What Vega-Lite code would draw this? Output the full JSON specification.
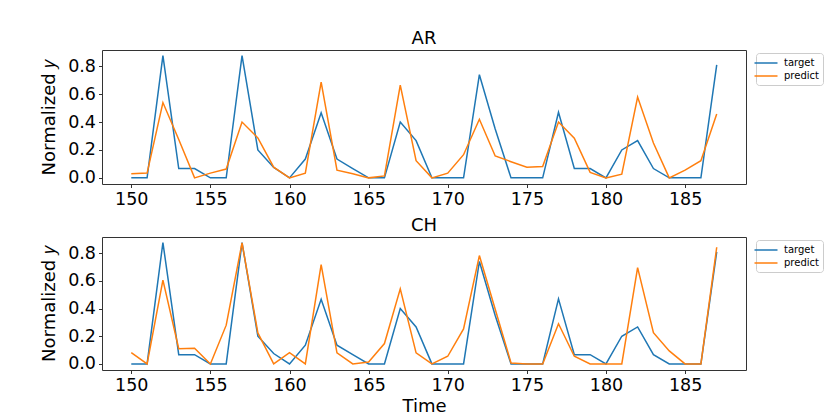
{
"$schema": "https://vega.github.io/schema/vega-lite/v6.json",
"padding": {"left": 40, "top": 29, "right": 0, "bottom": 0},
"background": "white",
"config": {
 "font": "DejaVu Sans",
 "view": {"stroke": "#333", "strokeWidth": 1},
 "axis": {"grid": false, "domain": false, "tickColor": "#333", "tickSize": 3.5, "labelFontSize": 17.5, "labelColor": "#000", "labelPadding": 3, "titleFontSize": 18, "titleFontWeight": "normal", "titleColor": "#000"},
 "title": {"fontSize": 18, "fontWeight": "normal", "offset": 2, "color": "#000"},
 "legend": {"orient": "none", "legendX": 654, "legendY": 3, "strokeColor": "#ccc", "fillColor": "#fff", "padding": 4, "cornerRadius": 3, "labelFontSize": 10, "labelColor": "#000", "symbolType": "M-2.3,0H2.3", "symbolSize": 100, "symbolStrokeWidth": 1.5, "rowPadding": 2, "labelOffset": 12}
},
"data": {"values": [
{"p":"AR","s":"target","t":150,"v":0},{"p":"AR","s":"target","t":151,"v":0},{"p":"AR","s":"target","t":152,"v":0.877},{"p":"AR","s":"target","t":153,"v":0.067},{"p":"AR","s":"target","t":154,"v":0.067},{"p":"AR","s":"target","t":155,"v":0},{"p":"AR","s":"target","t":156,"v":0},{"p":"AR","s":"target","t":157,"v":0.877},{"p":"AR","s":"target","t":158,"v":0.2},{"p":"AR","s":"target","t":159,"v":0.075},{"p":"AR","s":"target","t":160,"v":0},{"p":"AR","s":"target","t":161,"v":0.135},{"p":"AR","s":"target","t":162,"v":0.467},{"p":"AR","s":"target","t":163,"v":0.135},{"p":"AR","s":"target","t":164,"v":0.067},{"p":"AR","s":"target","t":165,"v":0},{"p":"AR","s":"target","t":166,"v":0},{"p":"AR","s":"target","t":167,"v":0.4},{"p":"AR","s":"target","t":168,"v":0.267},{"p":"AR","s":"target","t":169,"v":0},{"p":"AR","s":"target","t":170,"v":0},{"p":"AR","s":"target","t":171,"v":0},{"p":"AR","s":"target","t":172,"v":0.74},{"p":"AR","s":"target","t":173,"v":0.35},{"p":"AR","s":"target","t":174,"v":0},{"p":"AR","s":"target","t":175,"v":0},{"p":"AR","s":"target","t":176,"v":0},{"p":"AR","s":"target","t":177,"v":0.47},{"p":"AR","s":"target","t":178,"v":0.067},{"p":"AR","s":"target","t":179,"v":0.067},{"p":"AR","s":"target","t":180,"v":0},{"p":"AR","s":"target","t":181,"v":0.2},{"p":"AR","s":"target","t":182,"v":0.267},{"p":"AR","s":"target","t":183,"v":0.067},{"p":"AR","s":"target","t":184,"v":0},{"p":"AR","s":"target","t":185,"v":0},{"p":"AR","s":"target","t":186,"v":0},{"p":"AR","s":"target","t":187,"v":0.81},
{"p":"AR","s":"predict","t":150,"v":0.029},{"p":"AR","s":"predict","t":151,"v":0.034},{"p":"AR","s":"predict","t":152,"v":0.54},{"p":"AR","s":"predict","t":153,"v":0.275},{"p":"AR","s":"predict","t":154,"v":0},{"p":"AR","s":"predict","t":155,"v":0.034},{"p":"AR","s":"predict","t":156,"v":0.063},{"p":"AR","s":"predict","t":157,"v":0.4},{"p":"AR","s":"predict","t":158,"v":0.287},{"p":"AR","s":"predict","t":159,"v":0.077},{"p":"AR","s":"predict","t":160,"v":0},{"p":"AR","s":"predict","t":161,"v":0.034},{"p":"AR","s":"predict","t":162,"v":0.687},{"p":"AR","s":"predict","t":163,"v":0.055},{"p":"AR","s":"predict","t":164,"v":0.03},{"p":"AR","s":"predict","t":165,"v":0},{"p":"AR","s":"predict","t":166,"v":0.014},{"p":"AR","s":"predict","t":167,"v":0.665},{"p":"AR","s":"predict","t":168,"v":0.123},{"p":"AR","s":"predict","t":169,"v":0},{"p":"AR","s":"predict","t":170,"v":0.034},{"p":"AR","s":"predict","t":171,"v":0.166},{"p":"AR","s":"predict","t":172,"v":0.42},{"p":"AR","s":"predict","t":173,"v":0.157},{"p":"AR","s":"predict","t":174,"v":0.116},{"p":"AR","s":"predict","t":175,"v":0.077},{"p":"AR","s":"predict","t":176,"v":0.082},{"p":"AR","s":"predict","t":177,"v":0.4},{"p":"AR","s":"predict","t":178,"v":0.284},{"p":"AR","s":"predict","t":179,"v":0.039},{"p":"AR","s":"predict","t":180,"v":0},{"p":"AR","s":"predict","t":181,"v":0.026},{"p":"AR","s":"predict","t":182,"v":0.58},{"p":"AR","s":"predict","t":183,"v":0.25},{"p":"AR","s":"predict","t":184,"v":0},{"p":"AR","s":"predict","t":185,"v":0.055},{"p":"AR","s":"predict","t":186,"v":0.123},{"p":"AR","s":"predict","t":187,"v":0.458},
{"p":"CH","s":"target","t":150,"v":0},{"p":"CH","s":"target","t":151,"v":0},{"p":"CH","s":"target","t":152,"v":0.877},{"p":"CH","s":"target","t":153,"v":0.067},{"p":"CH","s":"target","t":154,"v":0.067},{"p":"CH","s":"target","t":155,"v":0},{"p":"CH","s":"target","t":156,"v":0},{"p":"CH","s":"target","t":157,"v":0.877},{"p":"CH","s":"target","t":158,"v":0.2},{"p":"CH","s":"target","t":159,"v":0.075},{"p":"CH","s":"target","t":160,"v":0},{"p":"CH","s":"target","t":161,"v":0.135},{"p":"CH","s":"target","t":162,"v":0.467},{"p":"CH","s":"target","t":163,"v":0.135},{"p":"CH","s":"target","t":164,"v":0.067},{"p":"CH","s":"target","t":165,"v":0},{"p":"CH","s":"target","t":166,"v":0},{"p":"CH","s":"target","t":167,"v":0.4},{"p":"CH","s":"target","t":168,"v":0.267},{"p":"CH","s":"target","t":169,"v":0},{"p":"CH","s":"target","t":170,"v":0},{"p":"CH","s":"target","t":171,"v":0},{"p":"CH","s":"target","t":172,"v":0.74},{"p":"CH","s":"target","t":173,"v":0.35},{"p":"CH","s":"target","t":174,"v":0},{"p":"CH","s":"target","t":175,"v":0},{"p":"CH","s":"target","t":176,"v":0},{"p":"CH","s":"target","t":177,"v":0.47},{"p":"CH","s":"target","t":178,"v":0.067},{"p":"CH","s":"target","t":179,"v":0.067},{"p":"CH","s":"target","t":180,"v":0},{"p":"CH","s":"target","t":181,"v":0.2},{"p":"CH","s":"target","t":182,"v":0.267},{"p":"CH","s":"target","t":183,"v":0.067},{"p":"CH","s":"target","t":184,"v":0},{"p":"CH","s":"target","t":185,"v":0},{"p":"CH","s":"target","t":186,"v":0},{"p":"CH","s":"target","t":187,"v":0.81},
{"p":"CH","s":"predict","t":150,"v":0.082},{"p":"CH","s":"predict","t":151,"v":0},{"p":"CH","s":"predict","t":152,"v":0.605},{"p":"CH","s":"predict","t":153,"v":0.11},{"p":"CH","s":"predict","t":154,"v":0.113},{"p":"CH","s":"predict","t":155,"v":0},{"p":"CH","s":"predict","t":156,"v":0.28},{"p":"CH","s":"predict","t":157,"v":0.875},{"p":"CH","s":"predict","t":158,"v":0.224},{"p":"CH","s":"predict","t":159,"v":0},{"p":"CH","s":"predict","t":160,"v":0.082},{"p":"CH","s":"predict","t":161,"v":0},{"p":"CH","s":"predict","t":162,"v":0.718},{"p":"CH","s":"predict","t":163,"v":0.08},{"p":"CH","s":"predict","t":164,"v":0},{"p":"CH","s":"predict","t":165,"v":0.014},{"p":"CH","s":"predict","t":166,"v":0.147},{"p":"CH","s":"predict","t":167,"v":0.542},{"p":"CH","s":"predict","t":168,"v":0.08},{"p":"CH","s":"predict","t":169,"v":0},{"p":"CH","s":"predict","t":170,"v":0.055},{"p":"CH","s":"predict","t":171,"v":0.253},{"p":"CH","s":"predict","t":172,"v":0.783},{"p":"CH","s":"predict","t":173,"v":0.395},{"p":"CH","s":"predict","t":174,"v":0.007},{"p":"CH","s":"predict","t":175,"v":0},{"p":"CH","s":"predict","t":176,"v":0},{"p":"CH","s":"predict","t":177,"v":0.29},{"p":"CH","s":"predict","t":178,"v":0.055},{"p":"CH","s":"predict","t":179,"v":0},{"p":"CH","s":"predict","t":180,"v":0},{"p":"CH","s":"predict","t":181,"v":0},{"p":"CH","s":"predict","t":182,"v":0.696},{"p":"CH","s":"predict","t":183,"v":0.226},{"p":"CH","s":"predict","t":184,"v":0.094},{"p":"CH","s":"predict","t":185,"v":0},{"p":"CH","s":"predict","t":186,"v":0},{"p":"CH","s":"predict","t":187,"v":0.843}
]},
"spacing": 53,
"bounds": "flush",
"resolve": {"legend": {"color": "independent"}},
"vconcat": [
 {
  "title": "AR",
  "width": 644, "height": 134,
  "transform": [{"filter": "datum.p === 'AR'"}],
  "mark": {"type": "line", "strokeWidth": 1.5},
  "encoding": {
   "x": {"field": "t", "type": "quantitative", "scale": {"domain": [148.15, 188.85], "nice": false, "zero": false}, "axis": {"values": [150,155,160,165,170,175,180,185], "title": null}},
   "y": {"field": "v", "type": "quantitative", "scale": {"domain": [-0.044, 0.917], "nice": false, "zero": false}, "axis": {"values": [0,0.2,0.4,0.6,0.8], "format": ".1f", "title": "Normalized 𝑦", "titlePadding": 9}},
   "color": {"field": "s", "type": "nominal", "scale": {"domain": ["target","predict"], "range": ["#1f77b4","#ff7f0e"]}, "legend": {"title": null}}
  }
 },
 {
  "title": "CH",
  "width": 644, "height": 133,
  "transform": [{"filter": "datum.p === 'CH'"}],
  "mark": {"type": "line", "strokeWidth": 1.5},
  "encoding": {
   "x": {"field": "t", "type": "quantitative", "scale": {"domain": [148.15, 188.85], "nice": false, "zero": false}, "axis": {"values": [150,155,160,165,170,175,180,185], "title": "Time", "titlePadding": 3}},
   "y": {"field": "v", "type": "quantitative", "scale": {"domain": [-0.044, 0.917], "nice": false, "zero": false}, "axis": {"values": [0,0.2,0.4,0.6,0.8], "format": ".1f", "title": "Normalized 𝑦", "titlePadding": 9}},
   "color": {"field": "s", "type": "nominal", "scale": {"domain": ["target","predict"], "range": ["#1f77b4","#ff7f0e"]}, "legend": {"title": null}}
  }
 }
]
}
